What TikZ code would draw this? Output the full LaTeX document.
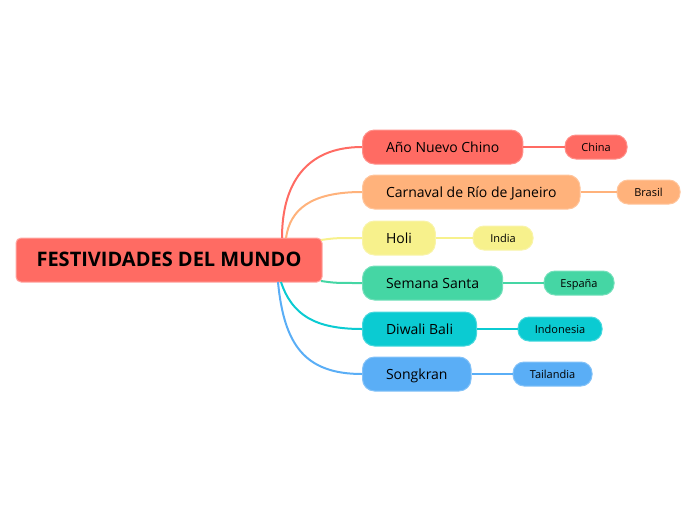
\documentclass[tikz,border=0pt]{standalone}
\usepackage{fontspec}
\setmainfont{Open Sans}
\usetikzlibrary{positioning}

\definecolor{cRed}{HTML}{FF6B63}
\definecolor{cOrange}{HTML}{FFB27B}
\definecolor{cYellow}{HTML}{F7F18C}
\definecolor{cGreen}{HTML}{45D6A4}
\definecolor{cCyan}{HTML}{0BCBD2}
\definecolor{cBlue}{HTML}{5AAEF6}

\tikzset{
  rootbox/.style={draw=cRed!60!white,fill=cRed,line width=1pt,rounded corners=5pt,
    minimum width=306pt,minimum height=44pt,inner sep=0pt,
    text height=14pt,text depth=2pt,font=\fontsize{20}{24}\selectfont\bfseries},
  topicbox/.style={draw=#1!75!white,fill=#1,line width=1pt,rounded corners=12pt,
    anchor=west,minimum height=34pt,inner xsep=23.5pt,inner ysep=0pt,
    text height=13pt,text depth=3pt,font=\fontsize{14}{17}\selectfont},
  leafbox/.style={draw=#1!75!white,fill=#1,line width=1pt,rounded corners=11pt,
    minimum height=24pt,inner sep=0pt,text height=10pt,text depth=2pt,
    font=\fontsize{11}{13}\selectfont},
  link/.style={draw=#1,line width=2pt},
}

\begin{document}
\begin{tikzpicture}[x=1pt,y=-1pt]
\useasboundingbox (0,0) rectangle (696,520);

\node[rootbox] (root) at (169,260) {FESTIVIDADES DEL MUNDO};

% ramas
\node[topicbox=cRed] (chino) at (362,147) {Año Nuevo Chino};
\node[topicbox=cOrange] (carnaval) at (362,192) {Carnaval de Río de Janeiro};
\node[topicbox=cYellow] (holi) at (362,238) {Holi};
\node[topicbox=cGreen] (semana) at (362,283) {Semana Santa};
\node[topicbox=cCyan] (diwali) at (362,329) {Diwali Bali};
\node[topicbox=cBlue] (songkran) at (362,374) {Songkran};

% paises
\node[leafbox=cRed,minimum width=62pt] (china) at (596,147) {China};
\node[leafbox=cOrange,minimum width=63pt] (brasil) at (648.5,192) {Brasil};
\node[leafbox=cYellow,minimum width=60pt] (india) at (503,238) {India};
\node[leafbox=cGreen,minimum width=70pt] (espana) at (579,283) {España};
\node[leafbox=cCyan,minimum width=84pt] (indonesia) at (560,329) {Indonesia};
\node[leafbox=cBlue,minimum width=79pt] (tailandia) at (552.5,374) {Tailandia};

\coordinate (r1) at (282,238);
\coordinate (r2) at (286,238);
\coordinate (r3) at (321,240);
\coordinate (r4) at (321,281);
\coordinate (r5) at (281,282);
\coordinate (r6) at (278,282);

\draw[link=cRed] (r1) .. controls (282,185) and (305,147) .. (chino.west);
\draw[link=cOrange] (r2) .. controls (290,210) and (310,192) .. (carnaval.west);
\draw[link=cYellow] (r3) .. controls (335,238) .. (holi.west);
\draw[link=cGreen] (r4) .. controls (335,283) .. (semana.west);
\draw[link=cCyan] (r5) .. controls (292,315) and (315,329) .. (diwali.west);
\draw[link=cBlue] (r6) .. controls (284,345) and (305,374) .. (songkran.west);

\draw[link=cRed,line width=1.2pt] (chino) -- (china);
\draw[link=cOrange,line width=1.2pt] (carnaval) -- (brasil);
\draw[link=cYellow,line width=1.2pt] (holi) -- (india);
\draw[link=cGreen,line width=1.2pt] (semana) -- (espana);
\draw[link=cCyan,line width=1.2pt] (diwali) -- (indonesia);
\draw[link=cBlue,line width=1.2pt] (songkran) -- (tailandia);
\end{tikzpicture}
\end{document}
